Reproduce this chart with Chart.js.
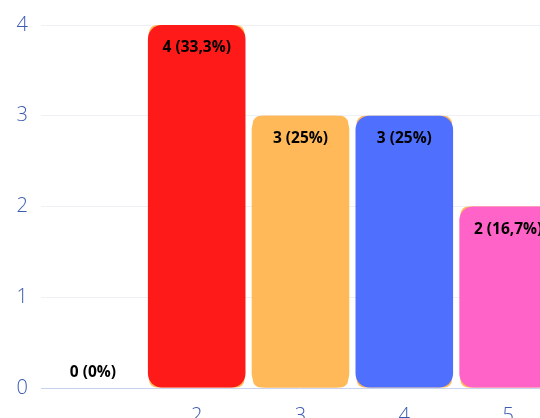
<!DOCTYPE html>
<html><head><meta charset="utf-8">
<script src="https://cdn.jsdelivr.net/npm/chart.js@4.4.1/dist/chart.umd.min.js"></script>
<style>
html,body{margin:0;padding:0;overflow:hidden;background:#fff;width:540px;height:418px;}
#wrap{position:absolute;left:0;top:0;width:562px;height:430px;}
</style></head><body>
<div id="wrap"><canvas id="c" width="560" height="430"></canvas></div>
<script>
const categories = ['1','2','3','4','5'];
const tickLabels = ['','2','3','4','5'];
const values = [0,4,3,3,2];
const barColors = ['#ff1a1a','#ff1a1a','#ffb958','#4f6fff','#ff63c7'];
const yTicks = [0,1,2,3,4];
const total = values.reduce((a,b)=>a+b,0);
function fmtPct(v){let p=(v/total*100);let s=(Math.round(p*10)/10).toString();return s.replace('.',',');}

const labelPlugin = {
  id:'barLabels',
  afterDatasetsDraw(chart){
    const meta = chart.getDatasetMeta(1);
    const ctx = chart.ctx;
    ctx.save();
    ctx.font = 'bold 15.5px "Open Sans", "Noto Sans", sans-serif';
    ctx.fillStyle = '#000';
    ctx.textAlign = 'center';
    ctx.textBaseline = 'middle';
    meta.data.forEach((bar,i)=>{
      const v = values[i];
      const t = v + ' (' + fmtPct(v) + '%)';
      const y = v === 0 ? bar.y - 15 : bar.y + 23;
      ctx.fillText(t, bar.x, y);
    });
    ctx.restore();
  }
};

new Chart(document.getElementById('c'), {
  type:'bar',
  data:{
    labels:categories,
    datasets:[
      {data:values, backgroundColor:'#ffb958', borderRadius:8, borderSkipped:false, barPercentage:0.92, categoryPercentage:1, grouped:false, order:2},
      {data:values, backgroundColor:barColors, borderRadius:14, borderSkipped:false, barPercentage:0.94, categoryPercentage:1, grouped:false, order:1}
    ]
  },
  options:{
    responsive:false, animation:false,
    layout:{padding:{top:22,left:0,right:0,bottom:0}},
    plugins:{legend:{display:false}, tooltip:{enabled:false}},
    scales:{
      x:{
        grid:{display:false, drawTicks:false},
        border:{display:false},
        ticks:{color:'#3a5bb0', padding:16, callback:(v,i)=>tickLabels[i], font:{family:'"Open Sans", "Noto Sans", sans-serif', size:20, weight:'300'}},
        afterFit(s){s.height=42;}
      },
      y:{
        min:0, max:4,
        afterBuildTicks(s){s.ticks = yTicks.map(v=>({value:v}));},
        grid:{drawTicks:false, color:(c)=>c.tick && c.tick.value===0 ? '#c9d3f0' : '#eef0f6'},
        border:{display:false},
        ticks:{color:'#3a5bb0', padding:13, font:{family:'"Open Sans", "Noto Sans", sans-serif', size:20, weight:'300'}},
        afterFit(s){s.width=41;}
      }
    }
  },
  plugins:[labelPlugin]
});
</script></body></html>
